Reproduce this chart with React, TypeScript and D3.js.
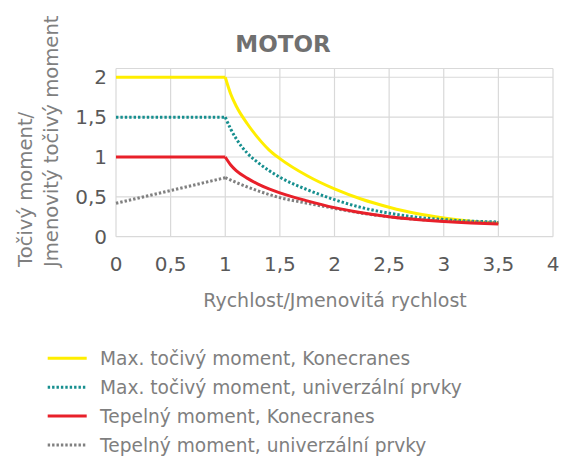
import React from "react";
import * as d3 from "d3";

const title = "MOTOR";
const xTicks = [0, 0.5, 1, 1.5, 2, 2.5, 3, 3.5, 4];
const yTicks = [0, 0.5, 1, 1.5, 2];
const xTickLabels = ["0", "0,5", "1", "1,5", "2", "2,5", "3", "3,5", "4"];
const yTickLabels = ["0", "0,5", "1", "1,5", "2"];

// speed ratio sample points
const speedFlat = [0, 1];
const speedDecay = [1, 1.05, 1.1, 1.2, 1.3, 1.4, 1.5, 1.75, 2, 2.25, 2.5, 2.75, 3, 3.25, 3.5];

// Max. točivý moment, Konecranes
const maxKonFlat = [2, 2];
const maxKonDecay = [2, 1.79, 1.64, 1.42, 1.24, 1.09, 0.98, 0.765, 0.6, 0.47, 0.37, 0.29, 0.235, 0.195, 0.17];
// Max. točivý moment, univerzální prvky
const maxUniFlat = [1.5, 1.5];
const maxUniDecay = [1.5, 1.35, 1.23, 1.05, 0.93, 0.83, 0.745, 0.59, 0.465, 0.365, 0.295, 0.245, 0.215, 0.195, 0.185];
// Tepelný moment, Konecranes
const thermKonFlat = [1, 1];
const thermKonDecay = [1, 0.9, 0.83, 0.735, 0.66, 0.6, 0.55, 0.45, 0.365, 0.3, 0.25, 0.215, 0.19, 0.172, 0.16];
// Tepelný moment, univerzální prvky
const thermUniFlat = [0.42, 0.74];
const thermUniDecay = [0.74, 0.71, 0.68, 0.625, 0.575, 0.53, 0.49, 0.42, 0.355, 0.295, 0.25, 0.218, 0.198, 0.185, 0.178];

const seriesNames = [
  "Max. točivý moment, Konecranes",
  "Max. točivý moment, univerzální prvky",
  "Tepelný moment, Konecranes",
  "Tepelný moment, univerzální prvky",
];
const seriesColors = ["#FFEE00", "#178F8F", "#E8202A", "#808080"];
const seriesDash = [null, "2.4 2", null, "2.4 2"];
const seriesWidth = [3, 3, 3, 3];

const W = 572;
const H = 461;
const FONT = "'DejaVu Sans', Verdana, sans-serif";

export default function App() {
  const x = d3.scaleLinear().domain([0, 4]).range([116, 553]);
  const y = d3.scaleLinear().domain([0, 2.11]).range([236.7, 68.5]);

  const flatLine = d3
    .line<[number, number]>()
    .x((d) => x(d[0]))
    .y((d) => y(d[1]))
    .curve(d3.curveLinear);
  const decayLine = d3
    .line<[number, number]>()
    .x((d) => x(d[0]))
    .y((d) => y(d[1]))
    .curve(d3.curveMonotoneX);

  const series = [
    [maxKonFlat, maxKonDecay],
    [maxUniFlat, maxUniDecay],
    [thermKonFlat, thermKonDecay],
    [thermUniFlat, thermUniDecay],
  ];
  const drawOrder = [0, 1, 3, 2];

  const zip = (xs: number[], ys: number[]) =>
    xs.map((v, i) => [v, ys[i]] as [number, number]);

  const legendY = [358.3, 387.3, 416, 445];

  return (
    <svg
      width={W}
      height={H}
      style={{ position: "absolute", left: 0, top: 0, background: "#fff" }}
      fontFamily={FONT}
    >
      <rect x={0} y={0} width={W} height={H} fill="#fff" />
      {/* gridlines */}
      {xTicks.map((t) => (
        <line
          key={"gx" + t}
          x1={x(t)}
          x2={x(t)}
          y1={y(2.11)}
          y2={y(0)}
          stroke="#D9D9D9"
          strokeWidth={1.2}
        />
      ))}
      {yTicks.map((t) => (
        <line
          key={"gy" + t}
          x1={x(0)}
          x2={x(4)}
          y1={y(t)}
          y2={y(t)}
          stroke="#D9D9D9"
          strokeWidth={1.2}
        />
      ))}
      <line x1={x(0)} x2={x(4)} y1={y(2.11)} y2={y(2.11)} stroke="#D9D9D9" strokeWidth={1.2} />

      {/* series */}
      {drawOrder.map((i) => {
        const [flat, decay] = series[i];
        const dash = seriesDash[i] || undefined;
        return (
          <g key={"s" + i}>
            <path
              d={flatLine(zip(speedFlat, flat)) || ""}
              fill="none"
              stroke={seriesColors[i]}
              strokeWidth={seriesWidth[i]}
              strokeDasharray={dash}
            />
            <path
              d={decayLine(zip(speedDecay, decay)) || ""}
              fill="none"
              stroke={seriesColors[i]}
              strokeWidth={seriesWidth[i]}
              strokeDasharray={dash}
            />
          </g>
        );
      })}

      {/* tick labels */}
      {xTicks.map((t, i) => (
        <text
          key={"xl" + t}
          x={x(t)}
          y={271}
          textAnchor="middle"
          fontSize={20}
          fill="#595959"
        >
          {xTickLabels[i]}
        </text>
      ))}
      {yTicks.map((t, i) => (
        <text
          key={"yl" + t}
          x={107}
          y={y(t) + 7}
          textAnchor="end"
          fontSize={20}
          fill="#595959"
        >
          {yTickLabels[i]}
        </text>
      ))}

      {/* title */}
      <text
        x={283}
        y={51.5}
        textAnchor="middle"
        fontSize={23}
        fontWeight="bold"
        fill="#707070"
      >
        {title}
      </text>

      {/* axis titles */}
      <text
        x={335}
        y={306.5}
        textAnchor="middle"
        fontSize={19}
        fill="#7F7F7F"
      >
        Rychlost/Jmenovitá rychlost
      </text>
      <text
        transform="translate(31.5,267) rotate(-90)"
        fontSize={19.6}
        fill="#7F7F7F"
      >
        Točivý moment/
      </text>
      <text
        transform="translate(58,267) rotate(-90)"
        fontSize={19.6}
        fill="#7F7F7F"
      >
        Jmenovitý točivý moment
      </text>

      {/* legend */}
      {seriesNames.map((name, i) => (
        <g key={"lg" + i}>
          <line
            x1={47.7}
            x2={86.7}
            y1={legendY[i]}
            y2={legendY[i]}
            stroke={seriesColors[i]}
            strokeWidth={3}
            strokeDasharray={seriesDash[i] || undefined}
          />
          <text x={100} y={legendY[i] + 7} fontSize={18.6} fill="#7F7F7F">
            {name}
          </text>
        </g>
      ))}
    </svg>
  );
}
